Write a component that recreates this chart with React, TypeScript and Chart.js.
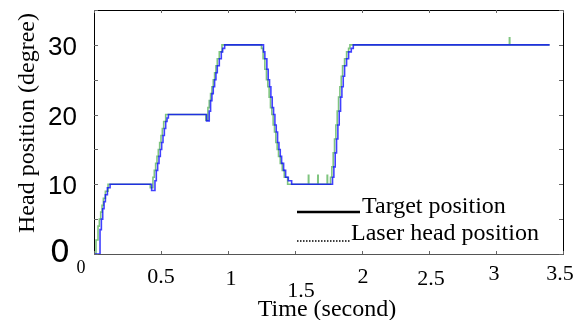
import React, { useEffect, useRef } from 'react';
import { Chart, registerables } from 'chart.js';

Chart.register(...registerables);

// Target position (green)
const targetTimes = [
  0, 0.015, 0.03, 0.04, 0.05, 0.06, 0.07, 0.085, 0.105,
  0.42, 0.44, 0.45, 0.46, 0.47, 0.48, 0.49, 0.5, 0.51, 0.52, 0.535,
  0.835, 0.85, 0.86, 0.87, 0.88, 0.89, 0.9, 0.91, 0.92, 0.935, 0.955,
  1.25, 1.262, 1.275, 1.287, 1.297, 1.307, 1.317, 1.327, 1.337, 1.347, 1.357, 1.367, 1.377, 1.39, 1.405, 1.42, 1.445,
  1.6, 1.603, 1.67, 1.673, 1.74, 1.743,
  1.765, 1.775, 1.785, 1.795, 1.805, 1.815, 1.825, 1.835, 1.845, 1.855, 1.87, 1.885, 1.9, 1.91,
  3.1, 3.103, 3.4,
];
const targetValues = [
  0, 2, 4, 5, 6, 7, 8, 9, 10,
  9.5, 11, 12, 13, 14, 15, 16, 17, 18, 19, 20,
  19.2, 21, 22, 23, 24, 25, 26, 27, 28, 29, 30,
  29.5, 28, 26.5, 25, 24, 22.5, 21, 20, 18.5, 17.5, 16, 15, 14, 13, 12, 11, 10,
  11.3, 10, 11.3, 10, 11.3, 10,
  11, 12.5, 14.5, 16.5, 18.5, 20.5, 22.5, 24, 25.5, 27, 28, 29, 29.5, 30,
  31, 30, 30,
];

// Laser head position (blue)
const laserTimes = [
  0, 0.045, 0.055, 0.065, 0.075, 0.085, 0.1, 0.12,
  0.43, 0.455, 0.465, 0.475, 0.485, 0.495, 0.505, 0.515, 0.525, 0.535, 0.545, 0.555,
  0.84, 0.86, 0.87, 0.88, 0.89, 0.9, 0.91, 0.92, 0.935, 0.95, 0.96, 0.975,
  1.265, 1.275, 1.29, 1.3, 1.31, 1.32, 1.33, 1.34, 1.35, 1.36, 1.37, 1.38, 1.39, 1.4, 1.415, 1.43, 1.45, 1.475,
  1.78, 1.79, 1.8, 1.81, 1.82, 1.83, 1.84, 1.85, 1.86, 1.87, 1.885, 1.9, 1.92, 1.935,
  3.4,
];
const laserValues = [
  0, 3.5, 5, 6.5, 7.5, 8.5, 9.5, 10,
  9.1, 10.5, 12, 13, 14, 15, 16, 17, 18, 19, 19.5, 20,
  19.1, 20.5, 22, 23, 24, 25, 26, 27, 28, 29, 29.5, 30,
  29, 28, 26.5, 25, 24, 22.5, 21, 20, 18.5, 17.5, 16, 15, 14, 13, 12, 11, 10.5, 10,
  11, 12.5, 14.5, 16.5, 18.5, 20.5, 22.5, 24, 25.5, 27, 28, 29, 29.5, 30,
  30,
];

const xTickValues = [0, 0.5, 1, 1.5, 2, 2.5, 3, 3.5];
const xTickLabels = ['0', '0.5', '1', '1.5', '2', '2.5', '3', '3.5'];
const yTickValues = [0, 5, 10, 15, 20, 25, 30, 35];
const yLabelValues = [0, 10, 20, 30];
const yLabelTexts = ['0', '10', '20', '30'];
const legendLabels = ['Target position', 'Laser head position'];
const xTitle = 'Time (second)';
const yTitle = 'Head position (degree)';

// label placement tweaks (style only): [dx, baseline offset below axis, font size]
const xLabelStyle: Record<string, [number, number, number]> = {
  '0': [-13, 19, 18],
  '0.5': [0, 29, 22],
  '1': [3, 31, 22],
  '1.5': [6, 43, 22],
  '2': [1, 29, 22],
  '2.5': [2, 31, 22],
  '3': [-2, 26, 22],
  '3.5': [-3, 26, 22],
};

const SERIF = '"Liberation Serif", "DejaVu Serif", serif';
const SANS = '"Liberation Sans", Arial, sans-serif';

const decorPlugin = {
  id: 'decor',
  afterDraw(chart: any) {
    const { ctx, chartArea } = chart;
    const xs = chart.scales.x;
    const ys = chart.scales.y;
    const { left, right, top, bottom } = chartArea;
    ctx.save();

    // frame
    ctx.lineWidth = 1;
    ctx.strokeStyle = '#000';
    ctx.beginPath();
    ctx.moveTo(left + 0.5, bottom);
    ctx.lineTo(left + 0.5, top + 0.5);
    ctx.lineTo(right + 0.5, top + 0.5);
    ctx.lineTo(right + 0.5, bottom);
    ctx.stroke();
    ctx.strokeStyle = '#555';
    ctx.beginPath();
    ctx.moveTo(left, bottom + 0.5);
    ctx.lineTo(right + 1, bottom + 0.5);
    ctx.stroke();

    // inner tick marks
    ctx.strokeStyle = '#666';
    ctx.beginPath();
    xTickValues.forEach((v) => {
      const px = Math.round(xs.getPixelForValue(v)) + 0.5;
      ctx.moveTo(px, top);
      ctx.lineTo(px, top + 3);
      ctx.moveTo(px, bottom);
      ctx.lineTo(px, bottom - 3);
    });
    yTickValues.forEach((v) => {
      const py = Math.round(ys.getPixelForValue(v)) + 0.5;
      ctx.moveTo(left, py);
      ctx.lineTo(left + 4, py);
      ctx.moveTo(right, py);
      ctx.lineTo(right - 4, py);
    });
    ctx.stroke();

    // x tick labels
    ctx.fillStyle = '#000';
    ctx.textAlign = 'center';
    ctx.textBaseline = 'alphabetic';
    xTickValues.forEach((v, i) => {
      const lab = xTickLabels[i];
      const st = xLabelStyle[lab] || [0, 29, 22];
      ctx.font = `${st[2]}px ${SERIF}`;
      ctx.fillText(lab, xs.getPixelForValue(v) + st[0], bottom + st[1]);
    });

    // y tick labels
    ctx.textAlign = 'right';
    ctx.textBaseline = 'middle';
    yLabelValues.forEach((v, i) => {
      const py = ys.getPixelForValue(v);
      if (v === 0) {
        ctx.font = `32px "DejaVu Sans", ${SANS}`;
        ctx.fillText(yLabelTexts[i], left - 24, py);
      } else {
        ctx.font = `26px ${SANS}`;
        ctx.fillText(yLabelTexts[i], left - 17, py + 3);
      }
    });

    // axis titles
    ctx.font = `24px ${SERIF}`;
    ctx.textAlign = 'center';
    ctx.textBaseline = 'alphabetic';
    ctx.fillText(xTitle, 327, 316);
    ctx.save();
    ctx.translate(34, (top + bottom) / 2 - 9);
    ctx.rotate(-Math.PI / 2);
    ctx.fillText(yTitle, 0, 0);
    ctx.restore();

    // legend
    ctx.textAlign = 'left';
    ctx.fillText(legendLabels[0], 362, 213);
    ctx.fillText(legendLabels[1], 351, 240);
    ctx.strokeStyle = '#000';
    ctx.lineWidth = 2.5;
    ctx.beginPath();
    ctx.moveTo(297, 212);
    ctx.lineTo(360, 212);
    ctx.stroke();
    ctx.lineWidth = 1.5;
    ctx.setLineDash([1.5, 1.5]);
    ctx.beginPath();
    ctx.moveTo(297, 241);
    ctx.lineTo(350, 241);
    ctx.stroke();
    ctx.setLineDash([]);

    ctx.restore();
  },
};

export default function App() {
  const ref = useRef<HTMLCanvasElement | null>(null);
  useEffect(() => {
    if (!ref.current) return;
    const chart = new Chart(ref.current, {
      type: 'line',
      data: {
        datasets: [
          {
            label: legendLabels[1],
            data: laserTimes.map((t, i) => ({ x: t, y: laserValues[i] })),
            borderColor: 'rgba(0,0,255,0.75)',
            borderWidth: 1.6,
            stepped: true,
            pointRadius: 0,
            fill: false,
            order: 0,
          },
          {
            label: legendLabels[0],
            data: targetTimes.map((t, i) => ({ x: t, y: targetValues[i] })),
            borderColor: 'rgba(0,140,0,0.5)',
            borderWidth: 1.6,
            stepped: true,
            pointRadius: 0,
            fill: false,
            order: 1,
          },
        ],
      },
      options: {
        responsive: false,
        animation: false,
        events: [],
        layout: { padding: { left: 94, right: 24, top: 10, bottom: 66 } },
        plugins: { legend: { display: false }, tooltip: { enabled: false } },
        scales: {
          x: { type: 'linear', min: 0, max: 3.5, display: false },
          y: { type: 'linear', min: 0, max: 35, display: false },
        },
      },
      plugins: [decorPlugin],
    } as any);
    return () => chart.destroy();
  }, []);
  return (
    <canvas
      ref={ref}
      width={587}
      height={320}
      style={{ position: 'absolute', left: 0, top: 0, width: 587, height: 320 }}
    />
  );
}
